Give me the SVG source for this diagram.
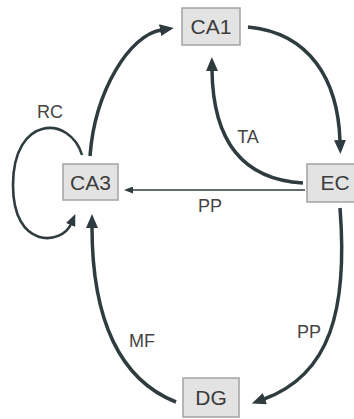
<svg xmlns="http://www.w3.org/2000/svg" width="354" height="419" viewBox="0 0 354 419">
<style>
.box{fill:#e3e3e3;stroke:#a3a3a3;stroke-width:1.5}
.nt{font-family:"Liberation Sans",Arial,sans-serif;font-size:21px;fill:#3c3c3c;text-anchor:middle}
.et{font-family:"Liberation Sans",Arial,sans-serif;font-size:18px;fill:#444;text-anchor:middle}
.thick{fill:none;stroke:#2f3c3f;stroke-width:3.5}
.mid{fill:none;stroke:#2f3c3f;stroke-width:2.6}
.thin{fill:none;stroke:#2f3c3f;stroke-width:1.6}
</style>
<defs>
<marker id="big" viewBox="0 0 14 12" refX="1" refY="6" markerWidth="14" markerHeight="12" markerUnits="userSpaceOnUse" orient="auto">
<path d="M0,0 L14,6 L0,12 z" fill="#2f3c3f"/>
</marker>
<marker id="med" viewBox="0 0 12 10" refX="1" refY="5" markerWidth="12" markerHeight="10" markerUnits="userSpaceOnUse" orient="auto">
<path d="M0,0 L12,5 L0,10 z" fill="#2f3c3f"/>
</marker>
<marker id="small" viewBox="0 0 9 7" refX="1" refY="3.5" markerWidth="9" markerHeight="7" markerUnits="userSpaceOnUse" orient="auto">
<path d="M0,0 L9,3.5 L0,7 z" fill="#2f3c3f"/>
</marker>
</defs>
<g id="connectors">
<path class="thick" d="M90,156 C 95,90 130,35 161,30" marker-end="url(#big)"/>
<path class="thick" d="M248,27 C 310,33 338,80 340,141" marker-end="url(#big)"/>
<path class="thick" d="M303,183 C 250,180 213,150 212,70" marker-end="url(#big)"/>
<path class="thin" d="M305,190 L132,190" marker-end="url(#small)"/>
<path class="thick" d="M340,208 C 348,310 330,375 264,399" marker-end="url(#big)"/>
<path class="thick" d="M176,402 C 120,380 92,320 92,227" marker-end="url(#big)"/>
<path class="mid" d="M82,155 C 70,115 13,115 13,185 C 13,250 62,245 71,224" marker-end="url(#med)"/>
<text class="et" x="50" y="118">RC</text>
<text class="et" x="248" y="143">TA</text>
<text class="et" x="210" y="212">PP</text>
<text class="et" x="309" y="338">PP</text>
<text class="et" x="142" y="347">MF</text>
</g>
<g id="CA1">
<rect class="box" x="182" y="8" width="58" height="37"/>
<text class="nt" x="211" y="34">CA1</text>
</g>
<g id="CA3">
<rect class="box" x="63" y="164" width="55" height="36"/>
<text class="nt" x="90.5" y="190">CA3</text>
</g>
<g id="EC">
<rect class="box" x="307" y="164" width="50" height="38"/>
<text class="nt" x="335" y="190">EC</text>
</g>
<g id="DG">
<rect class="box" x="183" y="378" width="56" height="39"/>
<text class="nt" x="211" y="405">DG</text>
</g>
</svg>
